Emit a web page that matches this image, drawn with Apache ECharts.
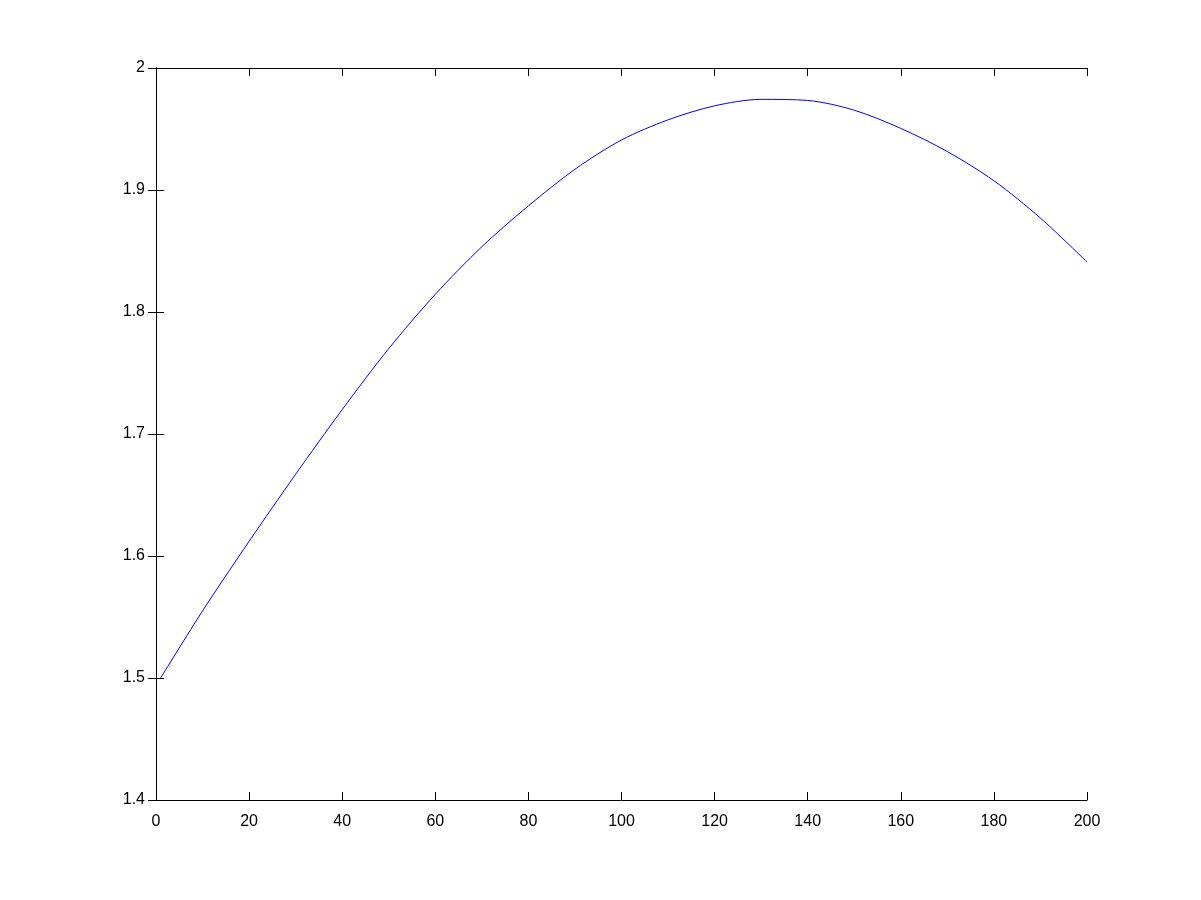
<!DOCTYPE html>
<html>
<head>
<meta charset="utf-8">
<script src="https://cdn.jsdelivr.net/npm/echarts@6/dist/echarts.min.js"></script>
<style>
html,body{margin:0;padding:0;background:#fff;}
#chart{width:1201px;height:900px;}
</style>
</head>
<body>
<div id="chart"></div>
<script>
const xValues = [1, 10, 20, 30, 40, 50, 60, 70, 80, 90, 100, 110, 120, 130, 140, 150, 160, 170, 180, 190, 200];
const yValues = [1.500, 1.555, 1.612, 1.667, 1.720, 1.770, 1.8145, 1.8535, 1.887, 1.917, 1.941, 1.9575, 1.969, 1.9743, 1.9734, 1.9654, 1.9505, 1.9315, 1.9076, 1.877, 1.841];
const xTicks = { min: 0, max: 200, interval: 20 };
const yTicks = { min: 1.4, max: 2, interval: 0.1 };

const chart = echarts.init(document.getElementById('chart'), null, { renderer: 'canvas' });
const font = { fontFamily: 'Liberation Sans', fontSize: 16, color: '#000' };
const lineStyle = { color: '#000', width: 1 };
const tick = { show: true, inside: true, length: 8, lineStyle: { color: '#000', width: 1 } };

const data = xValues.map((x, i) => [x, yValues[i]]);

chart.setOption({
  backgroundColor: '#fff',
  animation: false,
  grid: { left: 156, right: 114, top: 68, bottom: 100, containLabel: false },
  xAxis: [
    { type: 'value', position: 'bottom', min: xTicks.min, max: xTicks.max, interval: xTicks.interval,
      axisLine: { show: true, lineStyle: lineStyle }, axisTick: tick, splitLine: { show: false },
      axisLabel: Object.assign({ margin: 14 }, font) },
    { type: 'value', position: 'top', min: xTicks.min, max: xTicks.max, interval: xTicks.interval,
      axisLine: { show: true, lineStyle: lineStyle }, axisTick: tick, splitLine: { show: false },
      axisLabel: { show: false } }
  ],
  yAxis: [
    { type: 'value', position: 'left', min: yTicks.min, max: yTicks.max, interval: yTicks.interval,
      axisLine: { show: true, lineStyle: lineStyle }, axisTick: tick, splitLine: { show: false },
      axisLabel: Object.assign({ margin: 11, formatter: v => String(Math.round(v * 10) / 10) }, font) },
    { type: 'value', position: 'right', min: yTicks.min, max: yTicks.max, interval: yTicks.interval,
      axisLine: { show: true, lineStyle: lineStyle }, axisTick: tick, splitLine: { show: false },
      axisLabel: { show: false } }
  ],
  series: [{
    type: 'line',
    xAxisIndex: 0,
    yAxisIndex: 0,
    data: data,
    smooth: 0.3,
    symbol: 'none',
    lineStyle: { color: '#0000ff', width: 1 }
  }]
});
</script>
</body>
</html>
